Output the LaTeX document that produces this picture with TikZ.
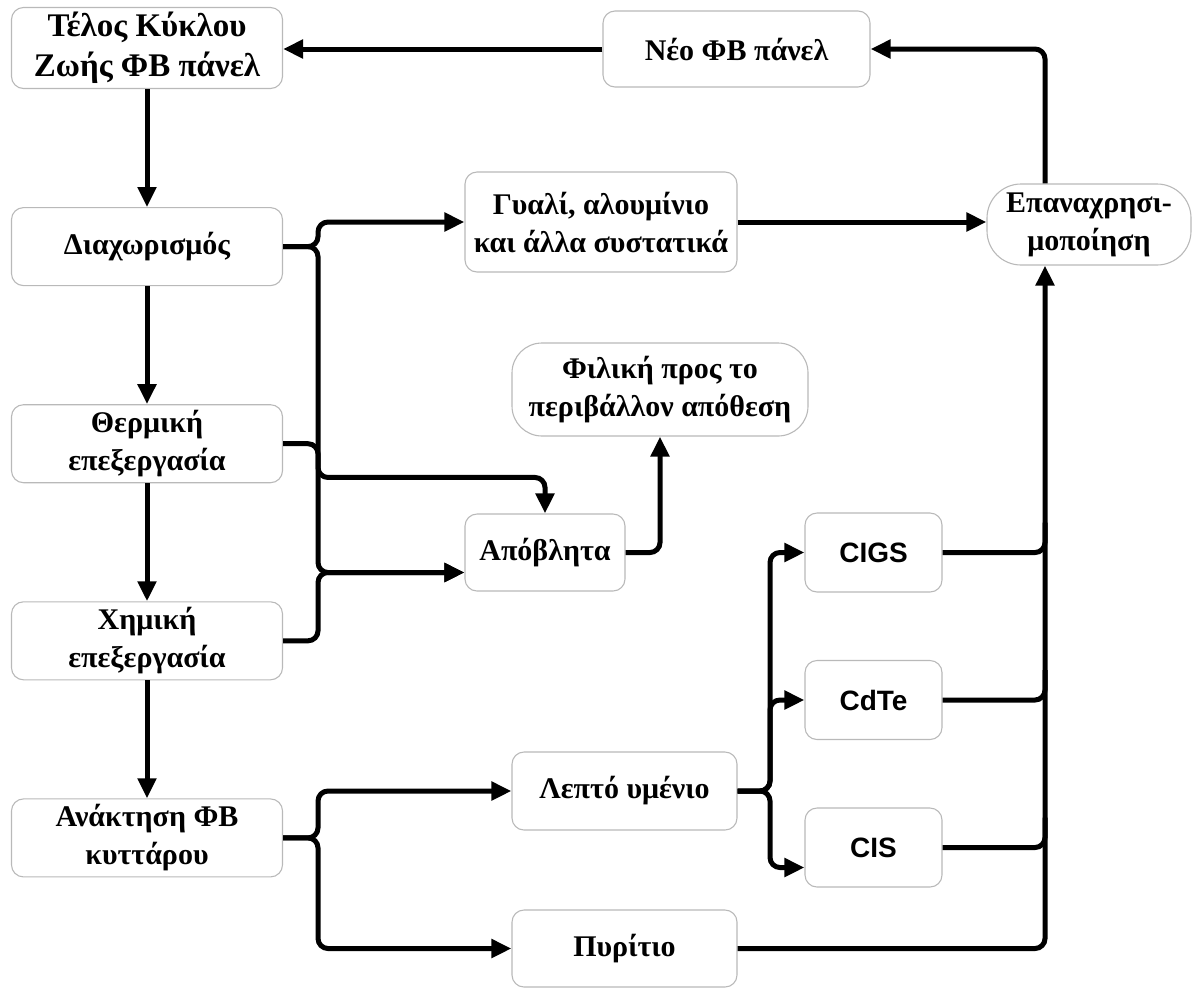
\documentclass[tikz,border=0pt]{standalone}
\usepackage{fontspec}
\setmainfont{Liberation Serif}
\newfontfamily\labsans{Liberation Sans}
\usetikzlibrary{arrows.meta, positioning, calc}

\begin{document}
\begin{tikzpicture}[
    x=1pt, y=1pt,
    node distance=118pt,
    >={Triangle[length=20pt,width=18pt]},
    box/.style={rectangle, draw=gray!55, line width=1.1pt, rounded corners=12pt, minimum width=271pt, minimum height=78pt, inner sep=2pt, align=center, font=\bfseries\fontsize{30}{38}\selectfont},
    pill/.style={box, rounded corners=34pt},
    film/.style={box, minimum width=137pt, minimum height=79pt, font=\labsans\bfseries\fontsize{28}{30}\selectfont},
    wire/.style={line width=5pt, rounded corners=10pt}
]
    \useasboundingbox (0,0) rectangle (1198,-989);
    % left column
    \node[box, minimum height=81pt, font=\bfseries\fontsize{33}{40}\selectfont] (eol) at (147,-48) {Τέλος Κύκλου\\Ζωής ΦΒ πάνελ};
    \node[box] (sep) [below=118pt of eol] {Διαχωρισμός};
    \node[box] (therm) [below=118pt of sep] {Θερμική\\επεξεργασία};
    \node[box] (chem) [below=118pt of therm] {Χημική\\επεξεργασία};
    \node[box] (recov) [below=118pt of chem] {Ανάκτηση ΦΒ\\κυττάρου};
    % middle and right
    \node[box, minimum width=267pt, minimum height=76pt] (newp) at (736.5,-49) {Νέο ΦΒ πάνελ};
    \node[box, minimum width=272pt, minimum height=100pt] (glass) at (601,-222) {Γυαλί, αλουμίνιο\\και άλλα συστατικά};
    \node[pill, minimum width=204pt, minimum height=81pt] (reuse) at (1089,-224.5) {Επαναχρησι-\\μοποίηση};
    \node[pill, minimum width=296pt, minimum height=93pt, rounded corners=30pt] (eco) at (660,-389.5) {Φιλική προς το\\περιβάλλον απόθεση};
    \node[box, minimum width=160pt, minimum height=77pt] (waste) at (545,-552.5) {Απόβλητα};
    \node[film] (cigs) at (873.5,-552.5) {CIGS};
    \node[film] (cdte) at (873.5,-700) {CdTe};
    \node[film] (cis) at (873.5,-847.5) {CIS};
    \node[box, minimum width=225pt] (thin) at (624.5,-791) {Λεπτό υμένιο};
    \node[box, minimum width=225pt, minimum height=77pt] (si) at (624.5,-948.5) {Πυρίτιο};

    % bus lines
    \coordinate (lbus) at (318,0);
    \coordinate (mbus) at (770,0);
    \coordinate (rbus) at (1045,0);

    \draw[wire, ->] (newp.west) -- (newp.west -| eol.east);
    \draw[wire, ->] (eol) -- (sep);
    \draw[wire, ->] (sep) -- (therm);
    \draw[wire, ->] (therm) -- (chem);
    \draw[wire, ->] (chem) -- (recov);

    \draw[wire, ->] (sep.east) -- (sep.east -| lbus) |- (glass.west);
    \draw[wire, ->] (sep.east) -- (sep.east -| lbus) |- ([yshift=-20pt]waste.west);
    \draw[wire, ->] (therm.east) -- (therm.east -| lbus) |- ([yshift=36pt]waste.north) -- (waste.north);
    \draw[wire, ->] (chem.east) -- (chem.east -| lbus) |- ([yshift=-20pt]waste.west);
    \draw[wire, ->] (waste.east) -| (eco.south);

    \draw[wire, ->] (glass.east) -- (glass.east -| reuse.west);
    \draw[wire, ->] (rbus |- reuse.north) |- (newp.east);

    \draw[wire, ->] (recov.east) -- (recov.east -| lbus) |- (thin.west);
    \draw[wire, ->] (recov.east) -- (recov.east -| lbus) |- (si.west);
    \draw[wire, ->] (thin.east) -- (thin.east -| mbus) |- (cigs.west);
    \draw[wire, ->] (thin.east) -- (thin.east -| mbus) |- (cdte.west);
    \draw[wire, ->] (thin.east) -- (thin.east -| mbus) |- ([yshift=-20pt]cis.west);

    \draw[wire] (cigs.east) -| ([yshift=30pt]cigs.east -| rbus);
    \draw[wire] (cdte.east) -| ([yshift=30pt]cdte.east -| rbus);
    \draw[wire] (cis.east) -| ([yshift=30pt]cis.east -| rbus);
    \draw[wire, ->] (si.east) -| (rbus |- reuse.south);
\end{tikzpicture}
\end{document}
